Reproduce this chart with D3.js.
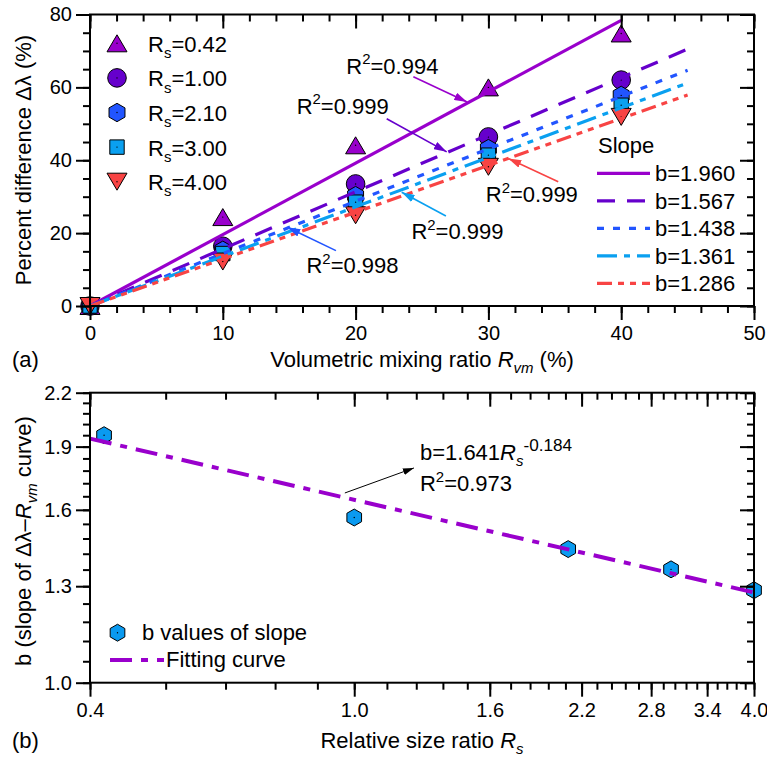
<!DOCTYPE html>
<html>
<head>
<meta charset="utf-8">
<script src="https://cdn.jsdelivr.net/npm/d3@7"></script>
<style>
  body { margin: 0; background: #fff; }
  text { font-family: "Liberation Sans", Arial, sans-serif; fill: #000; }
</style>
</head>
<body>
<svg id="chart" width="767" height="761"></svg>
<script>
// ---- panel (a): percent difference vs volumetric mixing ratio ----
const mixRatio = [0, 10, 20, 30, 40];
const rsNames = ["0.42", "1.00", "2.10", "3.00", "4.00"];
const diff042 = [0, 24.4, 44.1, 60.0, 74.8];
const diff100 = [0, 16.4, 33.5, 46.4, 62.0];
const diff210 = [0, 15.3, 30.3, 43.2, 57.8];
const diff300 = [0, 14.4, 28.5, 41.4, 55.1];
const diff400 = [0, 12.2, 24.9, 38.2, 51.9];
const slopeLabels = ["1.960", "1.567", "1.438", "1.361", "1.286"];
const fitEndX = [40, 45, 45, 45, 45];
const fitEndY = [78.4, 70.5, 64.7, 61.2, 57.9];
const r2Labels = ["0.994", "0.999", "0.998", "0.999", "0.999"];
const topXTicks = [0, 10, 20, 30, 40, 50];
const topYTicks = [0, 20, 40, 60, 80];

// ---- panel (b): slope b vs relative size ratio ----
const rsValues = [0.42, 1.00, 2.10, 3.00, 4.00];
const bValues = [1.960, 1.567, 1.438, 1.361, 1.286];
const fitRs = [0.4, 4.0];
const fitB = [1.942, 1.278];
const botXTicks = [0.4, 1.0, 1.6, 2.2, 2.8, 3.4, 4.0];
const botYTicks = [1.0, 1.3, 1.6, 1.9, 2.2];

const SERIES = [
  { color: "#9900CC", shape: "tri",    dash: null },
  { color: "#6600CC", shape: "circle", dash: "18,12" },
  { color: "#2255FF", shape: "hex",    dash: "7,9" },
  { color: "#0AA0F0", shape: "square", dash: "20,7,6,7" },
  { color: "#F84444", shape: "itri",   dash: "15,6,6,6,6,6" },
];
const diffs = [diff042, diff100, diff210, diff300, diff400];

// label positions for R^2 notes, in data units of panel (a)
const topNotes = [
  { tx: 19.3,  ty: 63.8, x1: 24.35, y1: 62.9, x2: 28.4,  y2: 56.0 },
  { tx: 15.56, ty: 52.8, x1: 22.34, y1: 51.4, x2: 26.86, y2: 42.3 },
  { tx: 16.3,  ty: 8.95, x1: 18.52, y1: 15.2, x2: 14.86, y2: 21.6 },
  { tx: 24.2,  ty: 18.3, x1: 26.8,  y1: 24.7, x2: 23.47, y2: 31.2 },
  { tx: 29.8,  ty: 28.5, x1: 35.26, y1: 34.1, x2: 31.5,  y2: 40.5 },
];

const FS = 22;
const svg = d3.select("#chart");

function rich(sel, parts, size) {
  let off = 0;
  parts.forEach(p => {
    const target = p.sub ? size * 0.28 : p.sup ? -size * 0.42 : 0;
    const ts = sel.append("tspan").attr("dy", target - off).text(p.t);
    off = target;
    if (p.sub || p.sup) ts.attr("font-size", size * (p.scale || 0.68));
    if (p.it) ts.attr("font-style", "italic");
  });
}

function shapePath(shape, k) {
  k = k || 1;
  if (shape === "tri") return `M0,${-8.5*k}L${10*k},${8.5*k}L${-10*k},${8.5*k}Z`;
  if (shape === "itri") return `M0,${8.5*k}L${10*k},${-8.5*k}L${-10*k},${-8.5*k}Z`;
  if (shape === "square") return `M-7.2,-7.2H7.2V7.2H-7.2Z`;
  if (shape === "circle") return d3.arc()({ innerRadius: 0, outerRadius: 9.3, startAngle: 0, endAngle: 2 * Math.PI });
  const r = 9.2 * k;
  return d3.range(6).map(i => {
    const a = (-90 + i * 60) * Math.PI / 180;
    return (i ? "L" : "M") + (r * Math.cos(a)).toFixed(2) + "," + (r * Math.sin(a)).toFixed(2);
  }).join("") + "Z";
}

function marker(g, x, y, shape, color, k) {
  g.append("path").attr("d", shapePath(shape, k))
    .attr("transform", `translate(${x},${y})`)
    .attr("fill", color).attr("stroke", "#000").attr("stroke-width", 1);
  g.append("circle").attr("cx", x).attr("cy", y).attr("r", 0.7).attr("fill", "#000");
}

function arrowDefs(id, color, len, wid) {
  svg.append("defs").append("marker").attr("id", id)
    .attr("markerUnits", "userSpaceOnUse")
    .attr("markerWidth", len).attr("markerHeight", wid)
    .attr("refX", len).attr("refY", wid / 2).attr("orient", "auto")
    .append("path").attr("d", `M0,0L${len},${wid/2}L0,${wid}Z`).attr("fill", color);
}

function styleAxis(sel, fontSize) {
  sel.select(".domain").remove();
  sel.selectAll("line").attr("stroke", "#000").attr("stroke-width", 2);
  sel.selectAll("text").attr("font-size", fontSize)
    .attr("font-family", '"Liberation Sans", Arial, sans-serif').attr("fill", "#000");
}

function drawFrame(x, y, major, minorX, minorY, fmt) {
  const [x0, x1] = x.range();
  const [yb, yt] = y.range();
  const add = (gen, t) => svg.append("g").attr("transform", t).call(gen).call(s => styleAxis(s, 20));
  add(d3.axisBottom(x).tickValues(minorX).tickSize(7).tickFormat(""), `translate(0,${yb})`);
  add(d3.axisBottom(x).tickValues(major.x).tickSize(14).tickPadding(6).tickFormat(fmt.x), `translate(0,${yb})`);
  add(d3.axisTop(x).tickValues(minorX).tickSize(-7).tickFormat(""), `translate(0,${yt})`);
  add(d3.axisTop(x).tickValues(major.x).tickSize(-14).tickFormat(""), `translate(0,${yt})`);
  add(d3.axisLeft(y).tickValues(minorY).tickSize(7).tickFormat(""), `translate(${x0},0)`);
  add(d3.axisLeft(y).tickValues(major.y).tickSize(14).tickPadding(4).tickFormat(fmt.y), `translate(${x0},0)`);
  add(d3.axisRight(y).tickValues(minorY).tickSize(-7).tickFormat(""), `translate(${x1},0)`);
  add(d3.axisRight(y).tickValues(major.y).tickSize(-14).tickFormat(""), `translate(${x1},0)`);
  svg.append("rect").attr("x", x0).attr("y", yt).attr("width", x1 - x0).attr("height", yb - yt)
    .attr("fill", "none").attr("stroke", "#000").attr("stroke-width", 2);
}

// ================= panel (a) =================
const xa = d3.scaleLinear().domain([0, 50]).range([90, 754]);
const ya = d3.scaleLinear().domain([0, 80]).range([306, 14.5]);

const ga = svg.append("g");
// markers
diffs.forEach((vals, i) => {
  vals.forEach((v, j) => marker(ga, xa(mixRatio[j]), ya(v), SERIES[i].shape, SERIES[i].color));
});
// fitted lines
SERIES.forEach((s, i) => {
  ga.append("line")
    .attr("x1", xa(0)).attr("y1", ya(0))
    .attr("x2", xa(fitEndX[i])).attr("y2", ya(fitEndY[i]))
    .attr("stroke", s.color).attr("stroke-width", 3.2)
    .attr("stroke-dasharray", s.dash);
});

drawFrame(xa, ya, { x: topXTicks, y: topYTicks }, d3.range(0, 51, 2), d3.range(0, 81, 5),
  { x: d3.format("d"), y: d3.format("d") });

// R^2 notes with arrows
SERIES.forEach((s, i) => {
  arrowDefs("arA" + i, s.color, 13, 8);
  const n = topNotes[i];
  svg.append("line")
    .attr("x1", xa(n.x1)).attr("y1", ya(n.y1)).attr("x2", xa(n.x2)).attr("y2", ya(n.y2))
    .attr("stroke", s.color).attr("stroke-width", 1.6).attr("marker-end", `url(#arA${i})`);
  const t = svg.append("text").attr("x", xa(n.tx)).attr("y", ya(n.ty)).attr("font-size", FS);
  rich(t, [{ t: "R" }, { t: "2", sup: true }, { t: "=" + r2Labels[i] }], FS);
});

// symbol legend
SERIES.forEach((s, i) => {
  const y = 43.3 + i * 34.6;
  marker(svg, 117, y, s.shape, s.color);
  const t = svg.append("text").attr("x", 148).attr("y", y + 8.5).attr("font-size", FS);
  rich(t, [{ t: "R" }, { t: "s", sub: true }, { t: "=" + rsNames[i] }], FS);
});

// slope legend
svg.append("text").attr("x", 598).attr("y", 153).attr("font-size", FS).text("Slope");
SERIES.forEach((s, i) => {
  const y = 173.3 + i * 27.5;
  svg.append("line").attr("x1", 597).attr("x2", 650).attr("y1", y).attr("y2", y)
    .attr("stroke", s.color).attr("stroke-width", 3.2).attr("stroke-dasharray", s.dash);
  svg.append("text").attr("x", 655).attr("y", y + 8).attr("font-size", FS).text("b=" + slopeLabels[i]);
});

// axis titles (a)
{
  const t = svg.append("text").attr("x", 422).attr("y", 367).attr("text-anchor", "middle").attr("font-size", FS);
  rich(t, [{ t: "Volumetric mixing ratio " }, { t: "R", it: true }, { t: "vm", sub: true, it: true }, { t: " (%)" }], FS);
  svg.append("text").attr("transform", "translate(31,160) rotate(-90)").attr("text-anchor", "middle")
    .attr("font-size", FS).text("Percent difference \u0394\u03bb (%)");
  svg.append("text").attr("x", 12).attr("y", 367).attr("font-size", FS).text("(a)");
}

// ================= panel (b) =================
const xb = d3.scaleLog().domain([0.4, 4.0]).range([90, 754]);
const yb = d3.scaleLog().domain([1.0, 2.2]).range([682.7, 392.7]);
const gb = svg.append("g");

rsValues.forEach((r, i) => marker(gb, xb(r), yb(bValues[i]), "hex", "#0A9AF0", 0.92));
gb.append("path")
  .datum(fitRs.map((r, i) => [r, fitB[i]]))
  .attr("d", d3.line().x(d => xb(d[0])).y(d => yb(d[1])))
  .attr("fill", "none").attr("stroke", "#9900CC").attr("stroke-width", 4)
  .attr("stroke-dasharray", "22,9,7,9");

drawFrame(xb, yb, { x: botXTicks, y: botYTicks },
  d3.range(31).map(i => 0.4 + i * 0.12), d3.range(21).map(i => 1 + i * 0.06),
  { x: d3.format(".1f"), y: d3.format(".1f") });

// fit equation note
arrowDefs("arB", "#000", 11, 7);
svg.append("line")
  .attr("x1", xb(0.968)).attr("y1", yb(1.675)).attr("x2", xb(1.23)).attr("y2", yb(1.793))
  .attr("stroke", "#000").attr("stroke-width", 1).attr("marker-end", "url(#arB)");
{
  const t = svg.append("text").attr("x", xb(1.256)).attr("y", yb(1.832)).attr("font-size", FS);
  rich(t, [{ t: "b=1.641" }, { t: "R", it: true }, { t: "s", sub: true, it: true }, { t: "-0.184", sup: true, scale: 0.78 }], FS);
  const t2 = svg.append("text").attr("x", xb(1.256)).attr("y", yb(1.684)).attr("font-size", FS);
  rich(t2, [{ t: "R" }, { t: "2", sup: true }, { t: "=0.973" }], FS);
}

// legend (b)
marker(svg, 117.5, 632.7, "hex", "#0A9AF0", 0.92);
svg.append("text").attr("x", 142).attr("y", 640).attr("font-size", FS).text("b values of slope");
svg.append("line").attr("x1", 110).attr("x2", 164).attr("y1", 660).attr("y2", 660)
  .attr("stroke", "#9900CC").attr("stroke-width", 4).attr("stroke-dasharray", "22,9,7,9");
svg.append("text").attr("x", 166).attr("y", 667).attr("font-size", FS).text("Fitting curve");

// axis titles (b)
{
  const t = svg.append("text").attr("x", 422).attr("y", 748).attr("text-anchor", "middle").attr("font-size", FS);
  rich(t, [{ t: "Relative size ratio " }, { t: "R", it: true }, { t: "s", sub: true, it: true }], FS);
  const t2 = svg.append("text").attr("transform", "translate(31,541) rotate(-90)").attr("text-anchor", "middle").attr("font-size", FS);
  rich(t2, [{ t: "b (slope of \u0394\u03bb\u2013" }, { t: "R", it: true }, { t: "vm", sub: true, it: true }, { t: " curve)" }], FS);
  svg.append("text").attr("x", 12).attr("y", 748).attr("font-size", FS).text("(b)");
}
</script>
</body>
</html>
